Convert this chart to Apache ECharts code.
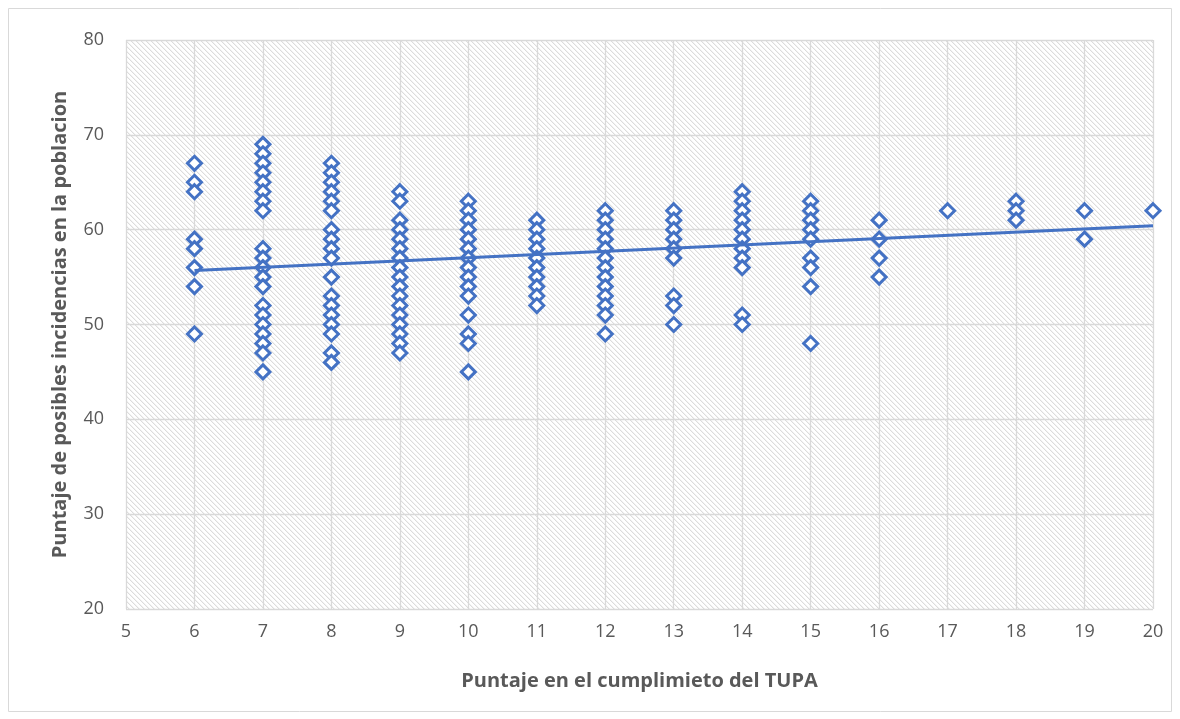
<!DOCTYPE html>
<html>
<head>
<meta charset="utf-8">
<script src="https://cdn.jsdelivr.net/npm/echarts@6/dist/echarts.min.js"></script>
<style>
  html, body { margin: 0; padding: 0; background: #fff; }
  #chart { width: 1180px; height: 719px; }
</style>
</head>
<body>
<div id="chart"></div>
<script>
// puntaje TUPA (eje x)
const tupaScores = [6, 7, 8, 9, 10, 11, 12, 13, 14, 15, 16, 17, 18, 19, 20]
// puntaje incidencias por cada columna de x
const incidenceByScore = [
  [67, 65, 64, 59, 58, 56, 54, 49],
  [69, 68, 67, 66, 65, 64, 63, 62, 58, 57, 56, 55, 54, 52, 51, 50, 49, 48, 47, 45],
  [67, 66, 65, 64, 63, 62, 60, 59, 58, 57, 55, 53, 52, 51, 50, 49, 47, 46],
  [64, 63, 61, 60, 59, 58, 57, 56, 55, 54, 53, 52, 51, 50, 49, 48, 47],
  [63, 62, 61, 60, 59, 58, 57, 56, 55, 54, 53, 51, 49, 48, 45],
  [61, 60, 59, 58, 57, 56, 55, 54, 53, 52],
  [62, 61, 60, 59, 58, 57, 56, 55, 54, 53, 52, 51, 49],
  [62, 61, 60, 59, 58, 57, 53, 52, 50],
  [64, 63, 62, 61, 60, 59, 58, 57, 56, 51, 50],
  [63, 62, 61, 60, 59, 57, 56, 54, 48],
  [61, 59, 57, 55],
  [62],
  [63, 62, 61],
  [62, 59],
  [62]
]
// linea de tendencia (extremos)
const trendX = [6, 20]
const trendY = [55.7, 60.4]

const points = []
tupaScores.forEach((x, i) => {
  incidenceByScore[i].forEach((y) => points.push([x, y]))
})

// fondo rayado diagonal como en Excel
const hatch = document.createElement('canvas')
hatch.width = 5
hatch.height = 5
const hctx = hatch.getContext('2d')
hctx.fillStyle = '#fff'
hctx.fillRect(0, 0, 5, 5)
for (let i = 0; i < 5; i++) {
  hctx.fillStyle = '#dcdcdc'
  hctx.fillRect(i, i, 1, 1)
  hctx.fillStyle = '#f3f3f3'
  hctx.fillRect((i + 1) % 5, i, 1, 1)
}

const textColor = '#595959'
const font = '"Open Sans", Calibri, sans-serif'

const chart = echarts.init(document.getElementById('chart'))
chart.setOption({
  animation: false,
  textStyle: { fontFamily: font },
  graphic: [{
    type: 'rect',
    shape: { x: 8.5, y: 8.5, width: 1163, height: 703 },
    style: { fill: 'none', stroke: '#d9d9d9', lineWidth: 1 },
    z: -10
  }],
  grid: {
    left: 126,
    right: 27,
    top: 40,
    bottom: 110,
    outerBoundsMode: 'none',
    show: true,
    borderWidth: 0,
    backgroundColor: { image: hatch, repeat: 'repeat' }
  },
  xAxis: {
    type: 'value',
    min: 5,
    max: 20,
    interval: 1,
    name: 'Puntaje en el cumplimieto del TUPA',
    nameLocation: 'middle',
    nameGap: 62,
    nameTextStyle: { color: textColor, fontSize: 20, fontWeight: 'bold', fontFamily: font },
    axisLine: { show: false },
    axisTick: { show: false },
    axisLabel: { color: textColor, fontSize: 18, margin: 14, fontFamily: font },
    splitLine: { show: true, lineStyle: { color: '#d9d9d9', width: 1.3 } }
  },
  yAxis: {
    type: 'value',
    min: 20,
    max: 80,
    interval: 10,
    name: 'Puntaje de posibles incidencias en la poblacion',
    nameLocation: 'middle',
    nameGap: 56,
    nameTextStyle: { color: textColor, fontSize: 20, fontWeight: 'bold', fontFamily: font },
    axisLine: { show: false },
    axisTick: { show: false },
    axisLabel: { color: textColor, fontSize: 18, margin: 22, fontFamily: font },
    splitLine: { show: true, lineStyle: { color: '#d9d9d9', width: 1.3 } }
  },
  series: [
    {
      type: 'scatter',
      data: points,
      symbol: 'diamond',
      symbolSize: 14,
      itemStyle: { color: '#fff', borderColor: '#4472C4', borderWidth: 3, opacity: 1 },
      z: 2
    },
    {
      type: 'line',
      data: trendX.map((x, i) => [x, trendY[i]]),
      showSymbol: false,
      lineStyle: { color: '#4472C4', width: 3 },
      z: 3
    }
  ]
})
</script>
</body>
</html>
